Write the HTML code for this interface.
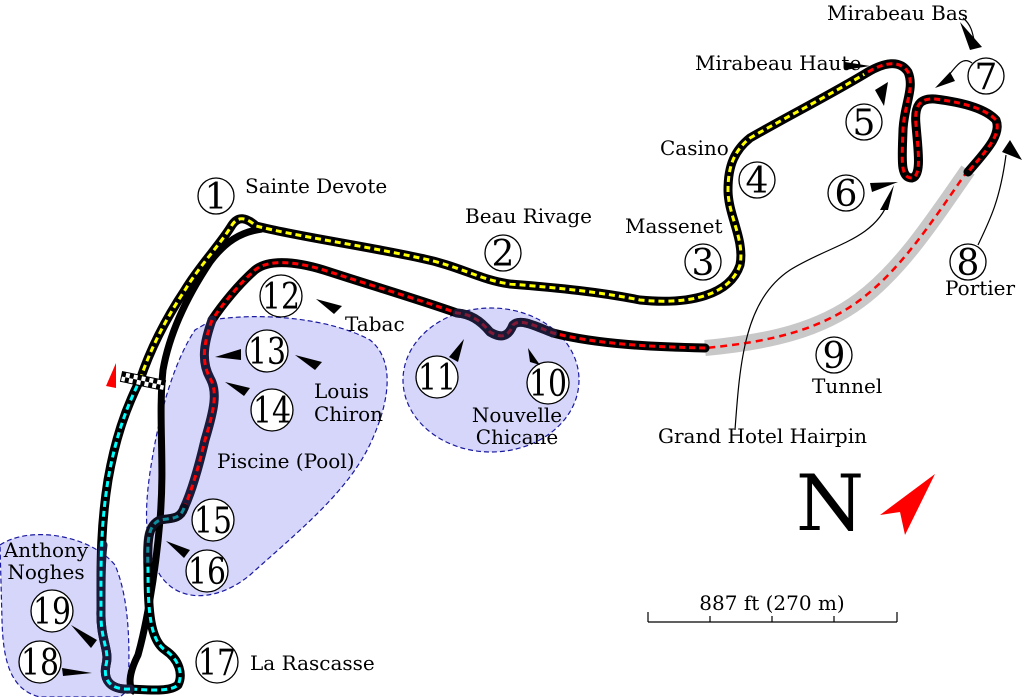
<!DOCTYPE html>
<html><head><meta charset="utf-8"><style>
html,body{margin:0;padding:0;background:#fff}
svg{display:block}
text{font-family:"DejaVu Serif","Liberation Serif",serif;fill:#000}
.n{font-size:36px;text-anchor:middle}
.l{font-size:20px}
</style></head><body>
<svg width="1024" height="697" viewBox="0 0 1024 697">
<g fill="#d6d6fa" stroke="#1a1aa0" stroke-width="1.2" stroke-dasharray="5,3">
<path d="M212,320 C260,312 330,318 370,340 C395,360 390,400 372,440 C350,490 300,530 250,575 C220,600 180,605 160,575 C142,545 145,500 152,460 C160,410 175,360 195,330 Z"/>
<ellipse cx="491" cy="380" rx="88" ry="72"/>
<path d="M0,545 C30,525 90,535 115,565 C130,600 130,650 128,690 L120,697 L40,697 C10,690 3,660 2,620 Z"/>
</g>
<path d="M968,170 C930,225 900,270 860,300 C820,330 770,342 705,348" fill="none" stroke="#c8c8c8" stroke-width="16"/>
<path d="M968,170 C930,225 900,270 860,300 C820,330 770,342 705,348" fill="none" stroke="#f00" stroke-width="2.5" stroke-dasharray="7,5"/>
<path d="M262,229 C240,232 225,242 210,262 C190,292 170,330 163,370 C158,420 165,460 160,520 C155,580 145,630 138,655 C128,675 128,688 135,692" fill="none" stroke="#000" stroke-width="7"/>
<g fill="none" stroke-linecap="round" stroke-linejoin="round">
<path d="M140,380 C150,350 165,320 185,290 C200,265 220,245 232,225 C238,216 246,217 256,226 C300,237 360,245 420,258 C460,266 480,280 510,284 C560,288 600,292 640,300 C690,305 730,295 740,265 C745,240 728,215 728,190 C728,165 735,150 750,138 C790,115 830,95 868,72" stroke="#000" stroke-width="9"/>
<path d="M140,380 C150,350 165,320 185,290 C200,265 220,245 232,225 C238,216 246,217 256,226 C300,237 360,245 420,258 C460,266 480,280 510,284 C560,288 600,292 640,300 C690,305 730,295 740,265 C745,240 728,215 728,190 C728,165 735,150 750,138 C790,115 830,95 868,72" stroke="#ff0" stroke-width="3" stroke-dasharray="6,4" stroke-linecap="butt"/>
<path d="M868,72 C885,62 900,60 908,72 C915,88 904,105 903,130 C902,160 900,178 912,178 C922,176 918,150 916,125 C914,105 920,98 935,99 C960,102 985,108 996,120 C1002,135 985,152 968,172" stroke="#000" stroke-width="9"/>
<path d="M868,72 C885,62 900,60 908,72 C915,88 904,105 903,130 C902,160 900,178 912,178 C922,176 918,150 916,125 C914,105 920,98 935,99 C960,102 985,108 996,120 C1002,135 985,152 968,172" stroke="#f00" stroke-width="3" stroke-dasharray="6,4" stroke-linecap="butt"/>
<path d="M705,348 C660,347 600,345 553,333 C535,326 520,318 513,325 C508,338 500,338 490,332 C480,320 470,314 457,313 C420,300 370,285 330,272 C300,262 270,258 255,270 C238,285 222,305 212,320" stroke="#000" stroke-width="9"/>
<path d="M705,348 C660,347 600,345 553,333 C535,326 520,318 513,325 C508,338 500,338 490,332 C480,320 470,314 457,313 C420,300 370,285 330,272 C300,262 270,258 255,270 C238,285 222,305 212,320" stroke="#f00" stroke-width="3" stroke-dasharray="6,4" stroke-linecap="butt"/>
<path d="M553,333 C535,326 520,318 513,325 C508,338 500,338 490,332 C480,320 470,314 457,313" stroke="#2a2a5a" stroke-width="9" opacity="0.6"/>
<path d="M212,320 C205,340 200,360 210,378 C218,392 214,410 205,440 C198,470 190,495 184,508" stroke="#1a1a3a" stroke-width="9"/>
<path d="M212,320 C205,340 200,360 210,378 C218,392 214,410 205,440 C198,470 190,495 184,508" stroke="#f00" stroke-width="3" stroke-dasharray="6,4" stroke-linecap="butt"/>
<path d="M184,508 C180,520 170,518 160,520 C148,525 147,540 148,570 C148,610 150,640 165,650 C180,660 183,675 178,685 C170,692 150,690 130,689" stroke="#000" stroke-width="9"/>
<path d="M184,508 C180,520 170,518 160,520 C148,525 147,540 148,570 C148,610 150,640 165,650 C180,660 183,675 178,685 C170,692 150,690 130,689" stroke="#0ff" stroke-width="3" stroke-dasharray="6,4" stroke-linecap="butt"/>
<path d="M184,508 C180,520 170,518 160,520 C148,525 147,540 148,560" stroke="#1a1a3a" stroke-width="9" opacity="0.5"/>
<path d="M130,689 C110,690 103,680 106,665 C110,650 100,640 101,610 C101,570 100,530 108,480 C115,440 125,410 140,380" stroke="#000" stroke-width="9"/>
<path d="M130,689 C110,690 103,680 106,665 C110,650 100,640 101,610 C101,580 101,560 103,545" stroke="#1a1a3a" stroke-width="9"/>
<path d="M130,689 C110,690 103,680 106,665 C110,650 100,640 101,610 C101,570 100,530 108,480 C115,440 125,410 140,380" stroke="#0ff" stroke-width="3" stroke-dasharray="6,4" stroke-linecap="butt"/>
</g>
<g transform="translate(143,381) rotate(12)">
<rect x="-22" y="-5" width="44" height="10" fill="#fff" stroke="#000" stroke-width="1"/>
<path d="M-22,-5h4v5h-4zM-14,-5h4v5h-4zM-6,-5h4v5h-4zM2,-5h4v5h-4zM10,-5h4v5h-4zM18,-5h4v5h-4zM-18,0h4v5h-4zM-10,0h4v5h-4zM-2,0h4v5h-4zM6,0h4v5h-4zM14,0h4v5h-4z" fill="#000"/>
</g>
<polygon points="116,363 116,388 106,386" fill="#f00"/>
<g fill="#fff" stroke="#000" stroke-width="1.3">
<circle cx="216" cy="196" r="18"/><circle cx="503" cy="253" r="18"/><circle cx="703" cy="262" r="18"/><circle cx="757" cy="180" r="18"/><circle cx="864" cy="122" r="18"/><circle cx="846" cy="193" r="18"/><circle cx="986" cy="76" r="18"/><circle cx="968" cy="262" r="18"/><circle cx="834" cy="355" r="18"/><circle cx="548" cy="383" r="21"/><circle cx="437" cy="377" r="21"/><circle cx="281" cy="296" r="21"/><circle cx="267" cy="351" r="21"/><circle cx="272" cy="410" r="21"/><circle cx="213" cy="520" r="21"/><circle cx="207" cy="571" r="21"/><circle cx="217" cy="662" r="21"/><circle cx="40" cy="662" r="21"/><circle cx="52" cy="611" r="21"/>
</g>
<g>
<text x="216" y="209" class="n">1</text><text x="503" y="266" class="n">2</text><text x="703" y="275" class="n">3</text><text x="757" y="193" class="n">4</text><text x="864" y="135" class="n">5</text><text x="846" y="206" class="n">6</text><text x="986" y="89" class="n">7</text><text x="968" y="275" class="n">8</text><text x="834" y="368" class="n">9</text>
<text x="548" y="396" class="n" textLength="38" lengthAdjust="spacingAndGlyphs">10</text><text x="437" y="390" class="n" textLength="38" lengthAdjust="spacingAndGlyphs">11</text><text x="281" y="309" class="n" textLength="38" lengthAdjust="spacingAndGlyphs">12</text><text x="267" y="364" class="n" textLength="38" lengthAdjust="spacingAndGlyphs">13</text><text x="272" y="423" class="n" textLength="38" lengthAdjust="spacingAndGlyphs">14</text><text x="213" y="533" class="n" textLength="38" lengthAdjust="spacingAndGlyphs">15</text><text x="207" y="584" class="n" textLength="38" lengthAdjust="spacingAndGlyphs">16</text><text x="217" y="675" class="n" textLength="38" lengthAdjust="spacingAndGlyphs">17</text><text x="40" y="675" class="n" textLength="38" lengthAdjust="spacingAndGlyphs">18</text><text x="52" y="624" class="n" textLength="38" lengthAdjust="spacingAndGlyphs">19</text>
</g>
<text class="l" x="245" y="193">Sainte Devote</text>
<text class="l" x="465" y="223">Beau Rivage</text>
<text class="l" x="625" y="233">Massenet</text>
<text class="l" x="660" y="155">Casino</text>
<text class="l" x="695" y="70">Mirabeau Haute</text>
<text class="l" x="827" y="20">Mirabeau Bas</text>
<text class="l" x="945" y="295">Portier</text>
<text class="l" x="812" y="393">Tunnel</text>
<text class="l" x="658" y="443">Grand Hotel Hairpin</text>
<text class="l" x="345" y="331">Tabac</text>
<text class="l" x="314" y="398">Louis</text>
<text class="l" x="314" y="421">Chiron</text>
<text class="l" x="217" y="468">Piscine (Pool)</text>
<text class="l" x="517" y="422" text-anchor="middle">Nouvelle</text>
<text class="l" x="517" y="444" text-anchor="middle">Chicane</text>
<text class="l" x="46" y="557" text-anchor="middle">Anthony</text>
<text class="l" x="46" y="579" text-anchor="middle">Noghes</text>
<text class="l" x="250" y="670">La Rascasse</text>
<g fill="#000">
<polygon points="316,299 342,306 334,314"/>
<polygon points="215,357 241,349 241,360"/>
<polygon points="295,355 322,362 315,370"/>
<polygon points="225,382 250,388 244,396"/>
<polygon points="166,541 190,550 184,558"/>
<polygon points="71,625 97,640 91,648"/>
<polygon points="62,668 92,673 63,676"/>
<polygon points="449,357 464,339 458,362"/>
<polygon points="528,348 540,365 530,362"/>
<polygon points="845,62 870,66 845,70"/>
<polygon points="875,90 888,82 884,106"/>
<polygon points="870,183 898,182 872,192"/>
<polygon points="960,22 982,47 970,50"/>
<polygon points="935,88 950,72 955,81"/>
<polygon points="1022,160 1010,140 1002,152"/>
<polygon points="894,185 880,210 888,210"/>
</g>
<g fill="none" stroke="#000" stroke-width="1.2">
<path d="M963,18 C972,25 973,35 975,45"/>
<path d="M972,63 C962,55 955,68 945,80"/>
<path d="M978,245 C990,220 1000,200 1006,155"/>
<path d="M735,430 C740,360 745,300 790,270 C830,245 875,240 889,200"/>
</g>
<text x="830" y="530" style="font-size:78px" text-anchor="middle">N</text>
<polygon points="935,474 880,515 900,512 905,535" fill="#f00"/>
<g stroke="#000" stroke-width="1.2" fill="none">
<path d="M648,622 H897 M648,612 V622 M710,616 V622 M772,616 V622 M834,616 V622 M897,612 V622"/>
</g>
<text class="l" x="772" y="610" text-anchor="middle">887 ft (270 m)</text>
</svg>
</body></html>
